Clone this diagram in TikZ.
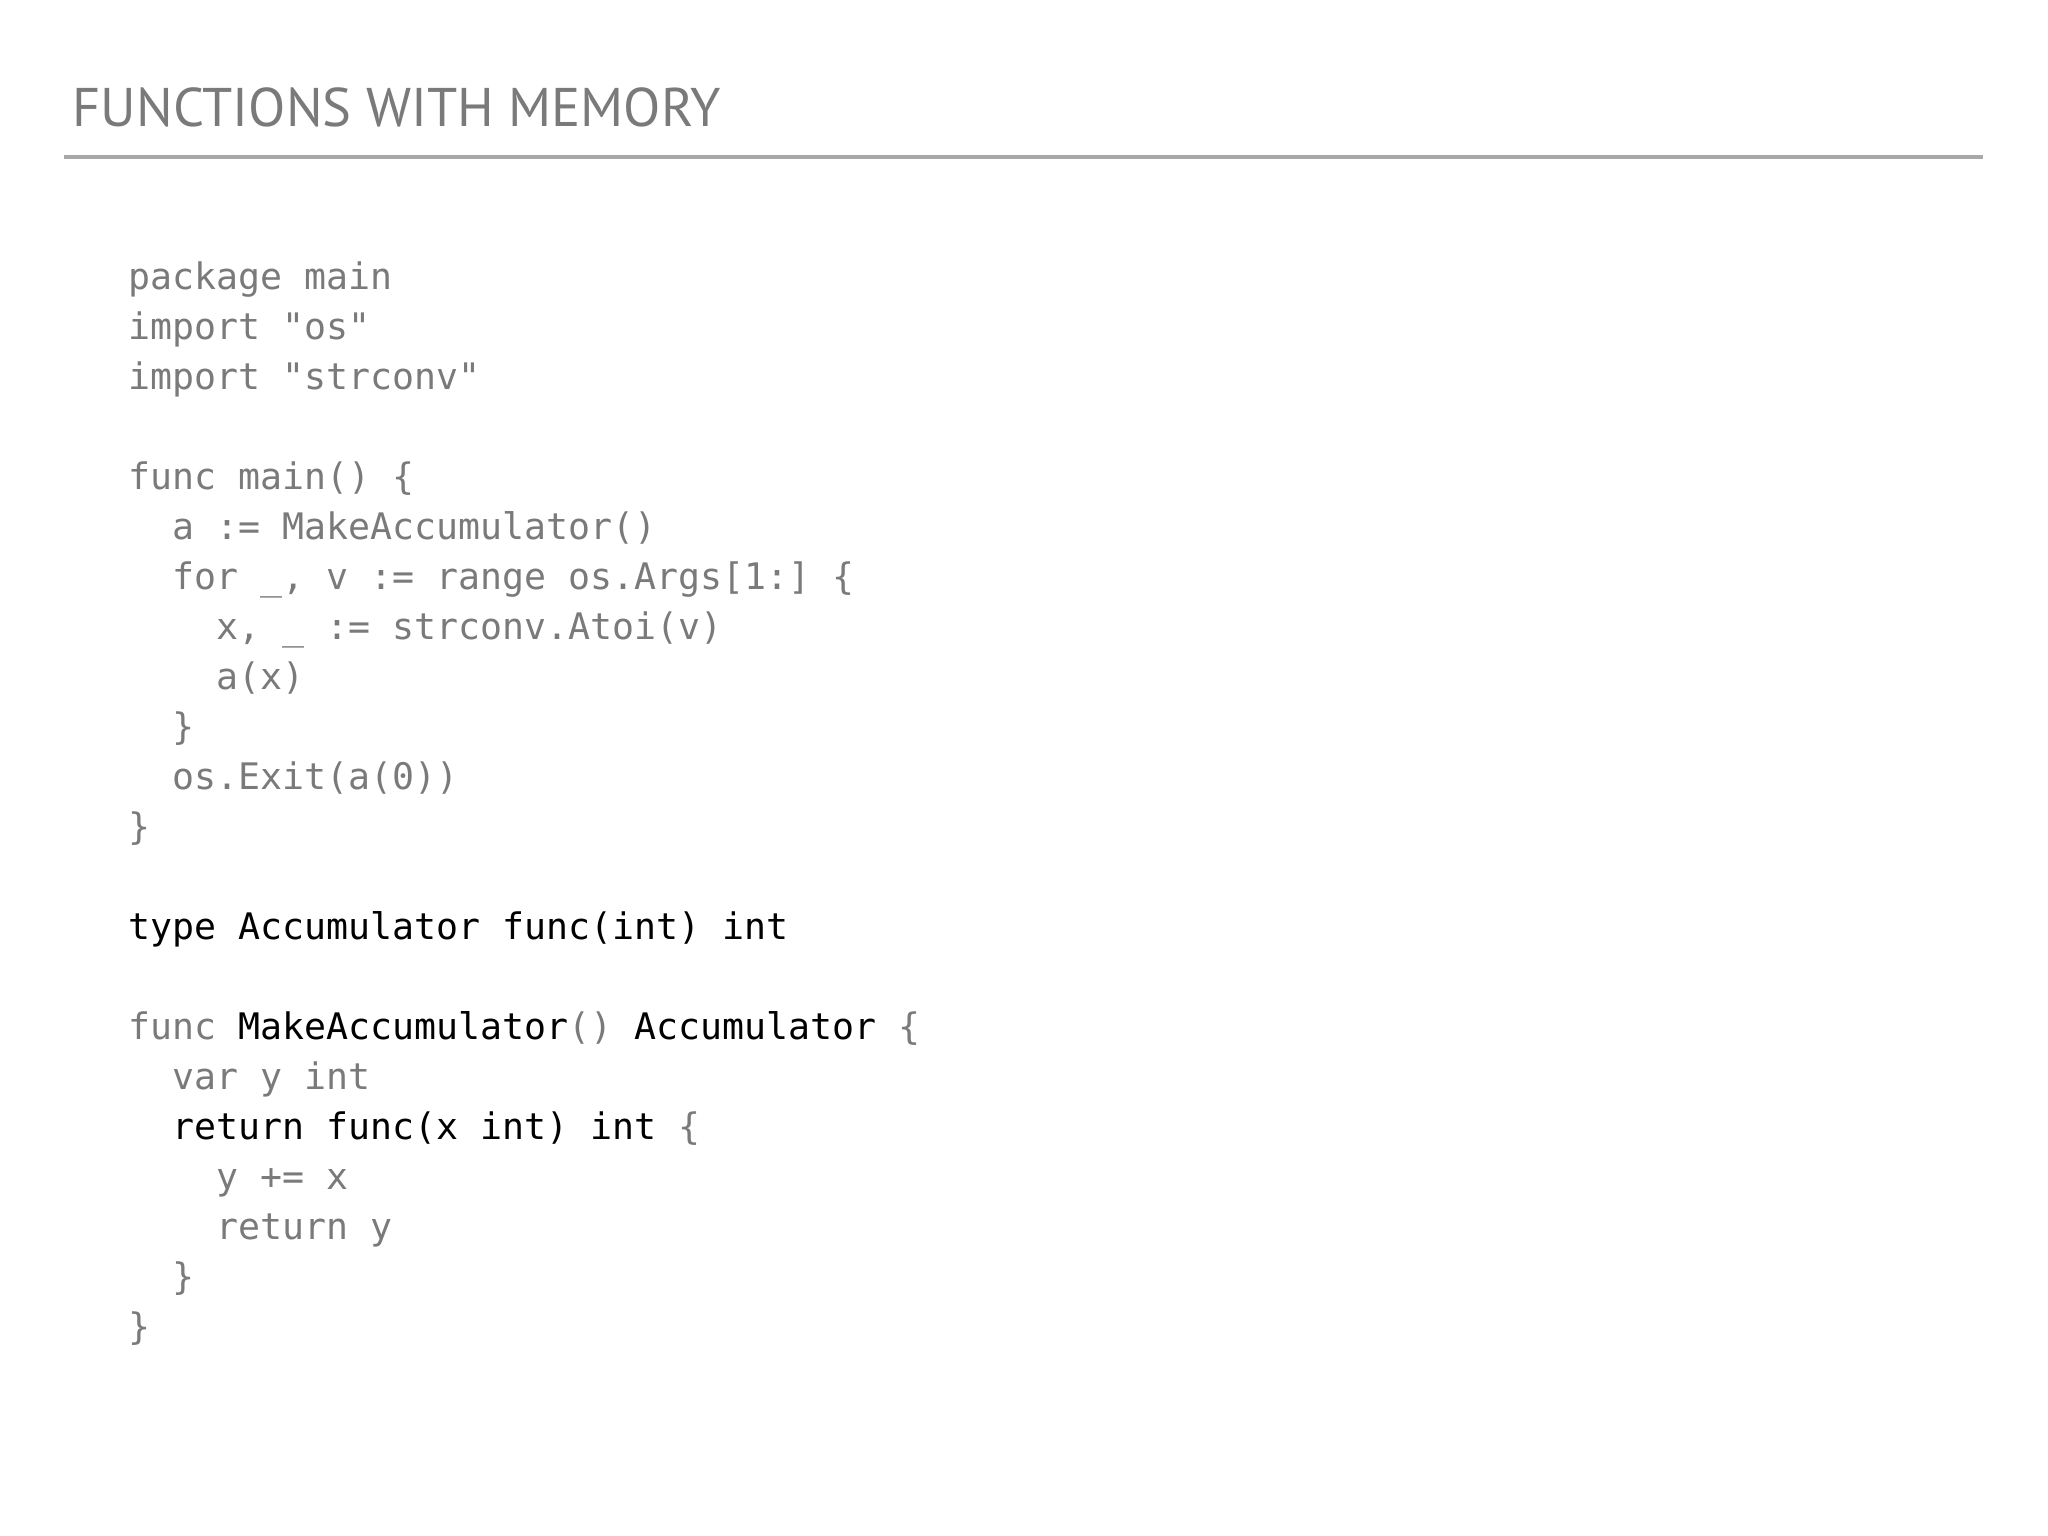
\documentclass[tikz,border=0pt]{standalone}
\usepackage{fontspec}
\setmainfont{PT Sans}
\setmonofont{DejaVu Sans Mono}
\definecolor{txtgray}{HTML}{7A7A7A}
\definecolor{rulegray}{HTML}{A8A8A8}
\begin{document}
\begin{tikzpicture}
\tikzset{
  code/.style={anchor=base west, inner sep=0pt, text=txtgray, font=\ttfamily\fontsize{10.4}{12}\selectfont},
  dark/.style={code, text=black}
}
\useasboundingbox (0,0) rectangle (20.48,15.36);
\node[anchor=base west, inner sep=0pt, text=txtgray, font=\fontsize{15.5}{18}\selectfont] (title) at (0.72,14.09) {FUNCTIONS WITH MEMORY};
\draw[rulegray, line width=1.1pt] (0.64,13.79) -- (19.83,13.79);
% code lines, baseline step 0.5cm
\def\x{1.28}
\node[code] (l0)  at (\x,12.46) {package main};
\node[code] (l1)  at (\x,11.96) {import "os"};
\node[code] (l2)  at (\x,11.46) {import "strconv"};
\node[code] (l4)  at (\x,10.46) {func main() \{};
\node[code] (l5)  at (\x+0.44,9.96) {a := MakeAccumulator()};
\node[code] (l6)  at (\x+0.44,9.46) {for \_, v := range os.Args[1:] \{};
\node[code] (l7)  at (\x+0.88,8.96) {x, \_ := strconv.Atoi(v)};
\node[code] (l8)  at (\x+0.88,8.46) {a(x)};
\node[code] (l9)  at (\x+0.44,7.96) {\}};
\node[code] (l10) at (\x+0.44,7.46) {os.Exit(a(0))};
\node[code] (l11) at (\x,6.96) {\}};
\node[dark] (l13) at (\x,5.96) {type Accumulator func(int) int};
\node[code] (l15) at (\x,4.96) {func \textcolor{black}{MakeAccumulator}() \textcolor{black}{Accumulator} \{};
\node[code] (l16) at (\x+0.44,4.46) {var y int};
\node[code] (l17) at (\x+0.44,3.96) {\textcolor{black}{return func(x int) int} \{};
\node[code] (l18) at (\x+0.88,3.46) {y += x};
\node[code] (l19) at (\x+0.88,2.96) {return y};
\node[code] (l20) at (\x+0.44,2.46) {\}};
\node[code] (l21) at (\x,1.96) {\}};
\end{tikzpicture}
\end{document}
